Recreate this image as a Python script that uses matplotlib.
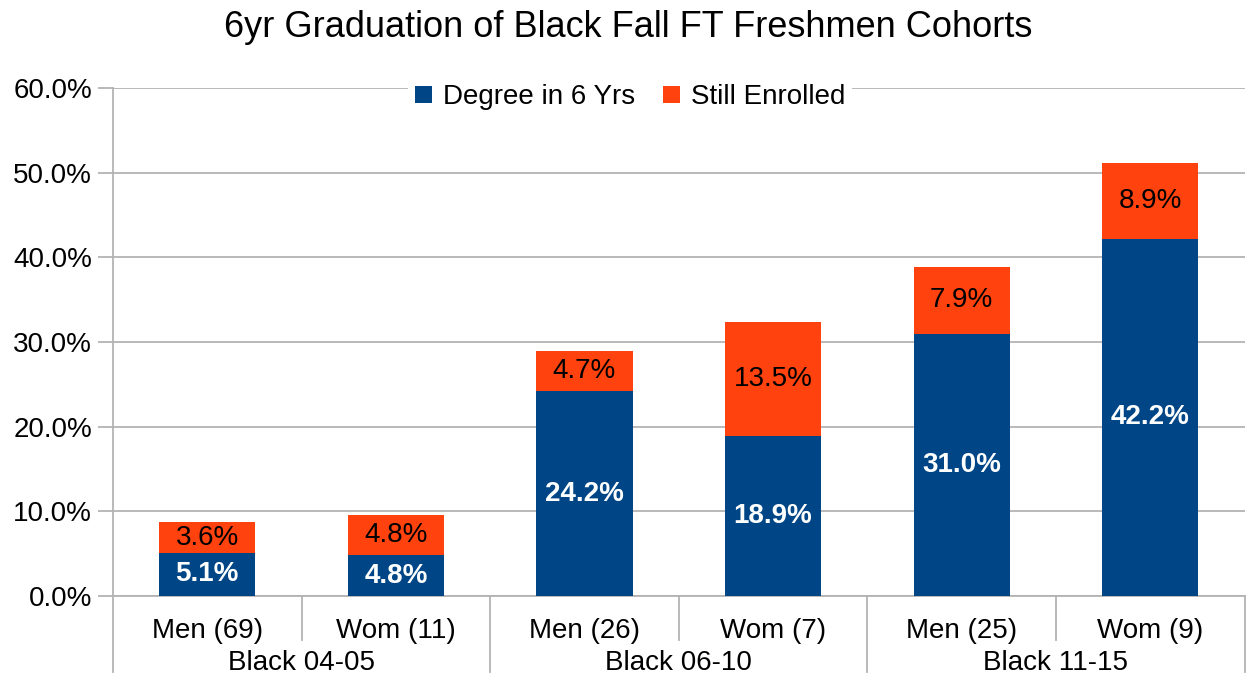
import matplotlib
matplotlib.use("Agg")
import matplotlib.pyplot as plt
import matplotlib.transforms as mtransforms
import numpy as np

plt.rcParams['font.family'] = ['Liberation Sans', 'DejaVu Sans']

categories = ["Men (69)", "Wom (11)", "Men (26)", "Wom (7)", "Men (25)", "Wom (9)"]
groups = ["Black 04-05", "Black 06-10", "Black 11-15"]
degree = [5.1, 4.8, 24.2, 18.9, 31.0, 42.2]
enrolled = [3.6, 4.8, 4.7, 13.5, 7.9, 8.9]
series_names = ["Degree in 6 Yrs", "Still Enrolled"]

blue = "#004586"
orange = "#ff420e"
grid = "#b3b3b3"

fig = plt.figure(figsize=(12.47, 6.77), dpi=100)
ax = fig.add_axes([0.0906, 0.1196, 0.9074, 0.7504])

x = np.arange(len(categories))
w = 0.51
ax.bar(x, degree, w, color=blue, label=series_names[0], zorder=3)
ax.bar(x, enrolled, w, bottom=degree, color=orange, label=series_names[1], zorder=3)

for i in range(len(categories)):
    ax.text(x[i], degree[i] / 2, f"{degree[i]:.1f}%", ha='center', va='center',
            color='white', fontweight='bold', fontsize=20, zorder=4)
    ax.text(x[i], degree[i] + enrolled[i] / 2, f"{enrolled[i]:.1f}%", ha='center', va='center',
            color='black', fontsize=20, zorder=4)

ax.set_xlim(-0.5, len(categories) - 0.5)
ax.set_ylim(0, 60)
yt = np.arange(0, 61, 10)
ax.set_yticks(yt)
ax.set_yticklabels([f"{v:.1f}%" for v in yt], fontsize=20)
ax.yaxis.grid(True, color=grid, linewidth=1.3, zorder=0)
ax.tick_params(axis='y', length=11, color=grid, width=1.3, pad=4)
ax.tick_params(axis='x', length=0)
ax.set_xticks([])
for s in ['top', 'right', 'bottom']:
    ax.spines[s].set_visible(False)
ax.spines['left'].set_color(grid)
ax.spines['left'].set_linewidth(1.3)

trans = mtransforms.blended_transform_factory(ax.transData, ax.transAxes)
for i, c in enumerate(categories):
    ax.text(x[i], -0.068, c, transform=trans, ha='center', va='center', fontsize=20)
for g, name in enumerate(groups):
    ax.text(2 * g + 0.5, -0.131, name, transform=trans, ha='center', va='center', fontsize=20)
for i in range(len(categories) + 1):
    xb = i - 0.5
    y0 = -0.149 if i % 2 == 0 else -0.086
    ax.plot([xb, xb], [0, y0], transform=trans, color=grid, linewidth=1.3, clip_on=False)
ax.plot([-0.5, len(categories) - 0.5], [0, 0], transform=trans, color=grid, linewidth=1.3, clip_on=False)

leg = ax.legend(loc='center', bbox_to_anchor=(0.457, 0.982), ncol=2, frameon=True,
                fontsize=20, handlelength=0.6, handleheight=0.6, handletextpad=0.4,
                columnspacing=1.0, borderpad=0.25, edgecolor='none', framealpha=1)
leg.get_frame().set_linewidth(0)

fig.text(0.504, 0.960, "6yr Graduation of Black Fall FT Freshmen Cohorts", ha='center', va='center', fontsize=26)

fig.savefig("out.png", dpi=100)
